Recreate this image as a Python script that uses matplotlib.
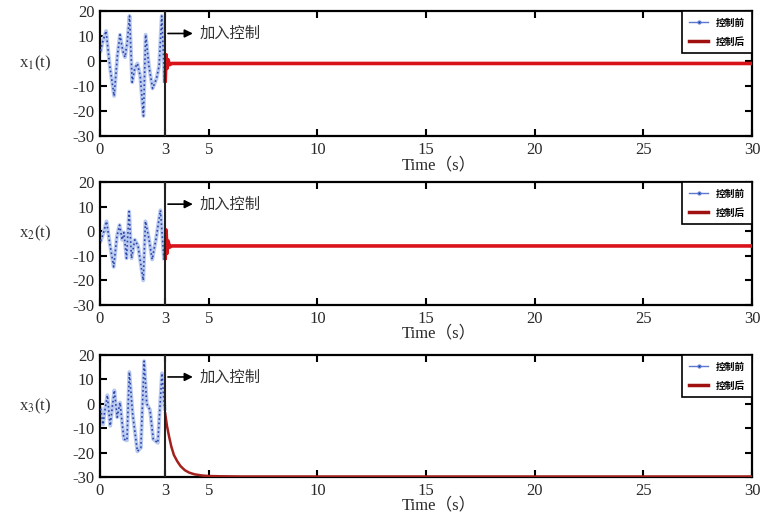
"""Chaos control response: x1, x2, x3 before/after control is switched on."""

import matplotlib
matplotlib.use("Agg")
import matplotlib.pyplot as plt
from matplotlib.lines import Line2D

plt.rcParams["font.family"] = ["Liberation Serif", "Noto Sans CJK SC"]
plt.rcParams["mathtext.fontset"] = "stix"
plt.rcParams["axes.unicode_minus"] = False

T_ON = 3.0
X_TICKS = [0, 3, 5, 10, 15, 20, 25, 30]
Y_TICKS = [-30, -20, -10, 0, 10, 20]

# before control (blue dotted)
t1_before = [0.03, 0.1, 0.28, 0.45, 0.65, 0.8, 0.92, 1.05, 1.15, 1.26, 1.36, 1.48, 1.6, 1.72, 1.85, 2.0, 2.1, 2.25, 2.42, 2.6, 2.72, 2.84, 2.97]
x1_before = [4.0, 7.0, 12.0, -2.0, -14.0, 2.0, 10.5, 4.0, 1.5, 8.0, 18.0, -8.5, -3.0, -1.0, -6.0, -22.0, 10.5, -2.0, -11.0, -7.0, -2.0, 18.0, -8.0]

t2_before = [0.03, 0.15, 0.3, 0.45, 0.63, 0.78, 0.9, 1.02, 1.1, 1.22, 1.34, 1.45, 1.6, 1.75, 1.99, 2.09, 2.25, 2.4, 2.58, 2.78, 2.94]
x2_before = [-4.0, -1.0, 4.0, -5.0, -14.5, -2.0, 2.5, -3.5, -0.5, -11.0, 8.0, -11.0, -3.5, -6.0, -20.0, 4.0, -3.0, -11.5, -3.0, 8.5, -11.0]

t3_before = [0.03, 0.14, 0.22, 0.34, 0.47, 0.57, 0.66, 0.79, 0.92, 1.1, 1.24, 1.35, 1.5, 1.72, 1.88, 2.03, 2.15, 2.3, 2.45, 2.66, 2.85, 2.97]
x3_before = [-2.0, -8.5, -3.0, 3.5, -9.0, -1.0, 5.5, -5.5, 0.5, -14.5, -15.0, 13.0, -4.0, -19.5, -18.0, 17.5, 0.0, -2.5, -14.5, -16.0, 12.5, -2.0]

# after control (red)
t1_after = [3.0, 3.04, 3.08, 3.13, 3.2, 3.3, 30.0]
x1_after = [-8.0, 2.5, -3.0, 0.5, -1.5, -1.0, -1.0]

t2_after = [3.0, 3.04, 3.08, 3.13, 3.2, 3.3, 30.0]
x2_after = [-11.0, 0.5, -9.0, -4.0, -6.5, -6.0, -6.0]

t3_after = [3.0, 3.08, 3.18, 3.28, 3.4, 3.55, 3.7, 3.9, 4.1, 4.35, 4.7, 5.0, 5.5, 6.5, 30.0]
x3_after = [-4.0, -9.0, -13.5, -17.5, -21.0, -23.5, -25.5, -27.2, -28.2, -28.9, -29.4, -29.6, -29.7, -29.8, -29.8]

before = [(t1_before, x1_before), (t2_before, x2_before), (t3_before, x3_before)]
after = [(t1_after, x1_after), (t2_after, x2_after), (t3_after, x3_after)]
ylabels = ["x$_1$(t)", "x$_2$(t)", "x$_3$(t)"]
red_colors = ["#d8141a", "#d8141a", "#a3211c"]
red_widths = [2.6, 2.6, 1.8]

fig = plt.figure(figsize=(7.61, 5.20), dpi=100)
positions = [
    [0.1314, 0.7385, 0.857, 0.2404],
    [0.1314, 0.4135, 0.857, 0.2365],
    [0.1314, 0.0827, 0.857, 0.2346],
]

legend_handles = [
    Line2D([], [], color="#5a78d0", lw=1.0, marker=".", markersize=4, markerfacecolor="#1a2f8a"),
    Line2D([], [], color="#a01010", lw=2.5),
]

for i in range(3):
    ax = fig.add_axes(positions[i])
    tb, xb = before[i]
    ta, xa = after[i]

    ax.plot(tb, xb, color="#b9c9ef", lw=2.8, zorder=2)
    ax.plot(tb, xb, color="#2a46a8", lw=1.2, ls=(0, (1, 1.6)), zorder=3)
    ax.plot(ta, xa, color=red_colors[i], lw=red_widths[i], zorder=3)

    ax.axvline(T_ON, color="#222222", lw=1.5, zorder=4)
    ax.annotate("", xy=(4.4, 11), xytext=(T_ON, 11),
                arrowprops=dict(arrowstyle="-|>", color="black", lw=1.2, mutation_scale=12))
    ax.text(4.6, 11, "加入控制", va="center", ha="left", fontsize=11,
            color="#333333", family=["Noto Sans CJK SC"])

    ax.set_xlim(0, 30)
    ax.set_ylim(-30, 20)
    ax.set_xticks(X_TICKS)
    ax.set_yticks(Y_TICKS)
    ax.tick_params(direction="in", length=5, width=1.5, top=True, right=True,
                   labelsize=12, pad=4, colors="black", labelcolor="#2a2a2a")
    for s in ax.spines.values():
        s.set_linewidth(1.6)

    ax.set_ylabel(ylabels[i], rotation=0, fontsize=12, color="#333333")
    ax.yaxis.set_label_coords(-0.099, 0.5)
    ax.set_xlabel("Time（s）", fontsize=12, color="#2a2a2a")
    ax.xaxis.set_label_coords(0.52, -0.17)

    leg = ax.legend(legend_handles, ["控制前", "控制后"], loc="upper right",
                    borderaxespad=0.0, fancybox=False, framealpha=1,
                    prop={"family": "Noto Sans CJK SC", "size": 7, "weight": "bold"},
                    handlelength=2.0, borderpad=0.7, labelspacing=0.9)
    leg.get_frame().set_edgecolor("black")
    leg.get_frame().set_linewidth(1.2)

fig.savefig("out.png", dpi=100)
